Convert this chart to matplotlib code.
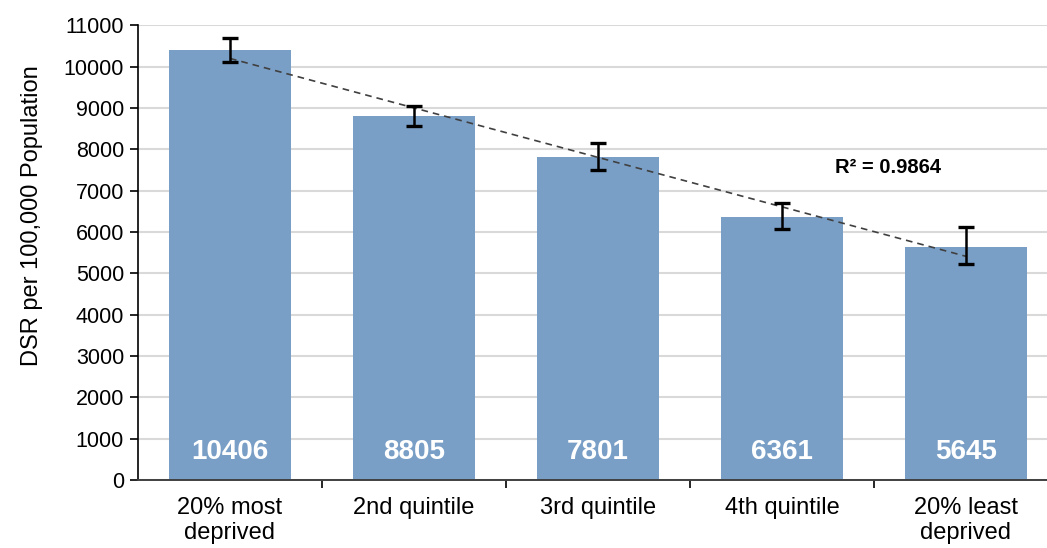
# DSR by deprivation quintile, with 95% confidence intervals and a linear trend

import numpy as np
import matplotlib.pyplot as plt

plt.rcParams['font.family'] = ['Liberation Sans', 'DejaVu Sans']

quintiles = ['20% most\ndeprived', '2nd quintile', '3rd quintile', '4th quintile', '20% least\ndeprived']
dsr = [10406, 8805, 7801, 6361, 5645]
ci_lower = [10110, 8560, 7495, 6070, 5225]
ci_upper = [10690, 9045, 8150, 6695, 6115]

x = np.arange(len(quintiles))
yerr = [np.array(dsr) - np.array(ci_lower), np.array(ci_upper) - np.array(dsr)]

fig = plt.figure(figsize=(10.47, 5.48), dpi=100)
ax = fig.add_axes([0.1318, 0.124, 0.8682, 0.830])

ax.bar(x, dsr, width=0.66, color='#7A9FC7', zorder=2)
ax.errorbar(x, dsr, yerr=yerr, fmt='none', ecolor='black', elinewidth=1.8,
            capsize=5.5, capthick=2.4, zorder=4)

# linear trend line over the five quintiles
slope, intercept = np.polyfit(x, dsr, 1)
fit = slope * x + intercept
r2 = 1 - np.sum((np.array(dsr) - fit) ** 2) / np.sum((np.array(dsr) - np.mean(dsr)) ** 2)
ax.plot(x, fit, linestyle=(0, (4, 3)), color='#404040', linewidth=1.2, zorder=3)
ax.text(3.29, 7570, f'R² = {r2:.4f}', fontsize=14.5, fontweight='bold', va='center', ha='left')

for xi, v in zip(x, dsr):
    ax.annotate(str(v), (xi, 0), xytext=(0, 20), textcoords='offset points',
                ha='center', va='center', color='white', fontsize=20, fontweight='bold')

ax.set_xlim(-0.5, -0.5 + 909 / 184)
ax.set_ylim(0, 11000)
ax.set_yticks(range(0, 11001, 1000))
ax.tick_params(axis='y', labelsize=15.5, length=6, width=1.2, pad=4)
ax.set_xticks(x)
ax.set_xticklabels(quintiles, fontsize=17, linespacing=1.2)
ax.tick_params(axis='x', length=0, pad=12)
ax.set_xticks(np.arange(0.5, 4.5, 1), minor=True)
ax.tick_params(axis='x', which='minor', length=6, width=1.2)

ax.set_ylabel('DSR per 100,000 Population', fontsize=17)
ax.yaxis.set_label_coords(-0.104, 0.582)
ax.yaxis.grid(True, color='#D9D9D9', linewidth=1.5, zorder=0)
ax.set_axisbelow(True)
for side in ['top', 'right']:
    ax.spines[side].set_visible(False)
ax.spines['left'].set_linewidth(1.2)
ax.spines['bottom'].set_linewidth(1.4)
ax.spines['bottom'].set_color('#404040')

fig.savefig('out.png', dpi=100)
